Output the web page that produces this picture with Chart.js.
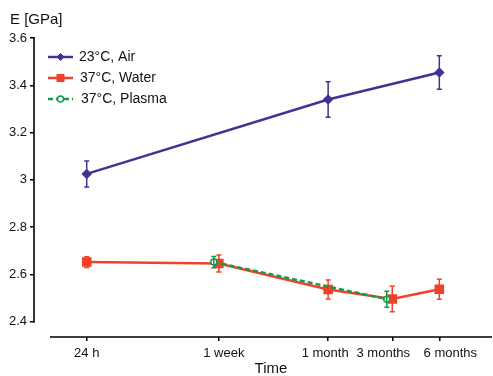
<!DOCTYPE html>
<html lang="en">
<head>
    <meta charset="UTF-8">
    <title>E modulus over time</title>
    <script src="https://cdnjs.cloudflare.com/ajax/libs/Chart.js/4.4.1/chart.umd.min.js"></script>
    <style>
        body { margin: 0; background: #fff; }
        #wrap { width: 493px; height: 376px; }
    </style>
</head>
<body>
    <div id="wrap"><canvas id="chart" width="493" height="376"></canvas></div>

    <script>
        // time points in days (log axis)
        const tickDays = [1, 7, 35, 90, 180];
        const tickLabels = ['24 h', '1 week', '1 month', '3 months', '6 months'];
        const yTicks = [2.4, 2.6, 2.8, 3, 3.2, 3.4, 3.6];

        const airDays = [1, 35, 180];
        const airE = [3.025, 3.34, 3.454];
        const airErr = [0.055, 0.075, 0.071];

        const waterDays = [1, 7, 35, 90, 180];
        const waterE = [2.652, 2.646, 2.536, 2.496, 2.537];
        const waterErr = [0.023, 0.036, 0.040, 0.054, 0.042];

        const plasmaDays = [6.5, 83];
        const plasmaE = [2.652, 2.495];
        const plasmaErr = [0.024, 0.034];

        const BLUE = '#3d3494';
        const RED = '#f0412a';
        const GREEN = '#17994a';
        const FONT = 'Arial, "Liberation Sans", sans-serif';
        // labels in the original are nudged sideways so they don't collide
        const labelNudge = [0, 5, -3, -9, 11];

        const pts = (xs, ys) => xs.map((x, i) => ({ x: x, y: ys[i] }));

        // vertical error bars with small caps
        const errorBars = {
            id: 'errorBars',
            afterDatasetDraw(chart, args) {
                const ds = chart.data.datasets[args.index];
                if (!ds.err) return;
                const ctx = chart.ctx;
                const ys = chart.scales.y;
                ctx.save();
                ctx.strokeStyle = ds.borderColor;
                ctx.lineWidth = 1.5;
                args.meta.data.forEach((p, i) => {
                    const v = ds.data[i].y;
                    const top = ys.getPixelForValue(v + ds.err[i]);
                    const bot = ys.getPixelForValue(v - ds.err[i]);
                    ctx.beginPath();
                    ctx.moveTo(p.x, top); ctx.lineTo(p.x, bot);
                    ctx.moveTo(p.x - 2.5, top); ctx.lineTo(p.x + 2.5, top);
                    ctx.moveTo(p.x - 2.5, bot); ctx.lineTo(p.x + 2.5, bot);
                    ctx.stroke();
                });
                ctx.restore();
            }
        };

        // detached axis lines, x labels, axis titles, legend inside the plot
        const decorations = {
            id: 'decorations',
            afterDraw(chart) {
                const ctx = chart.ctx;
                const a = chart.chartArea;
                const xs = chart.scales.x;
                const ys = chart.scales.y;
                const xStart = a.left + 16;
                ctx.save();
                ctx.strokeStyle = '#000';
                ctx.lineWidth = 1.6;
                ctx.beginPath();
                ctx.moveTo(a.left, ys.getPixelForValue(yTicks[yTicks.length - 1]) - 1);
                ctx.lineTo(a.left, ys.getPixelForValue(yTicks[0]) + 1);
                ctx.moveTo(xStart, a.bottom);
                ctx.lineTo(a.right, a.bottom);
                ctx.stroke();

                ctx.fillStyle = '#111';
                ctx.textBaseline = 'middle';
                ctx.textAlign = 'center';
                ctx.font = '13px ' + FONT;
                tickDays.forEach((d, i) => {
                    ctx.fillText(tickLabels[i], xs.getPixelForValue(d) + labelNudge[i], a.bottom + 16.5);
                });
                ctx.font = '15px ' + FONT;
                ctx.fillText('Time', (xStart + a.right) / 2, 369);

                ctx.textAlign = 'left';
                ctx.fillText('E [GPa]', 10, 20);

                // legend
                ctx.font = '14px ' + FONT;
                chart.data.datasets.forEach((ds, i) => {
                    const y = 57 + i * 21;
                    ctx.strokeStyle = ds.borderColor;
                    ctx.lineWidth = 2.5;
                    ctx.setLineDash(ds.borderDash || []);
                    ctx.beginPath();
                    ctx.moveTo(48, y); ctx.lineTo(73, y);
                    ctx.stroke();
                    ctx.setLineDash([]);
                    ctx.fillStyle = ds.pointBackgroundColor;
                    ctx.lineWidth = ds.pointBorderWidth || 1;
                    Chart.helpers.drawPoint(ctx, {
                        pointStyle: ds.pointStyle,
                        radius: ds.pointRadius,
                        borderWidth: ds.pointBorderWidth || 1
                    }, 60.5, y);
                    ctx.fillStyle = '#111';
                    ctx.fillText(ds.label, 79 + i, y);
                });
                ctx.restore();
            }
        };

        new Chart(document.getElementById('chart'), {
            type: 'line',
            data: {
                datasets: [
                    {
                        label: '23°C, Air', data: pts(airDays, airE), err: airErr,
                        borderColor: BLUE, backgroundColor: BLUE, pointBackgroundColor: BLUE,
                        borderWidth: 2.5, pointStyle: 'rectRot', pointRadius: 3.5, order: 3
                    },
                    {
                        label: '37°C, Water', data: pts(waterDays, waterE), err: waterErr,
                        borderColor: RED, backgroundColor: RED, pointBackgroundColor: RED,
                        borderWidth: 2.5, pointStyle: 'rect', pointRadius: 5, order: 2
                    },
                    {
                        label: '37°C, Plasma', data: pts(plasmaDays, plasmaE), err: plasmaErr,
                        borderColor: GREEN, backgroundColor: '#fff', pointBackgroundColor: '#fff',
                        borderWidth: 2.5, borderDash: [5, 3], pointStyle: 'circle', pointRadius: 3,
                        pointBorderWidth: 1.5, order: 1
                    }
                ]
            },
            options: {
                responsive: false,
                animation: false,
                layout: { autoPadding: false, padding: { top: 38, right: 1, left: 0, bottom: 0 } },
                plugins: { legend: { display: false }, tooltip: { enabled: false } },
                scales: {
                    x: {
                        type: 'logarithmic',
                        min: 0.46, max: 391,
                        afterBuildTicks: s => { s.ticks = tickDays.map(v => ({ value: v })); },
                        afterFit: s => { s.height = 39; s.paddingLeft = 0; s.paddingRight = 0; },
                        ticks: { display: false },
                        grid: { drawOnChartArea: false, drawTicks: true, tickLength: 4, color: '#000', lineWidth: 1.5 },
                        border: { display: false }
                    },
                    y: {
                        min: 2.335, max: 3.6,
                        afterBuildTicks: s => { s.ticks = yTicks.map(v => ({ value: v })); },
                        afterFit: s => { s.width = 34; },
                        ticks: {
                            padding: 3, color: '#111',
                            font: { family: FONT, size: 13 },
                            callback: v => String(v)
                        },
                        grid: { drawOnChartArea: false, drawTicks: true, tickLength: 4, color: '#000', lineWidth: 1.5 },
                        border: { display: false }
                    }
                }
            },
            plugins: [errorBars, decorations]
        });
    </script>
</body>
</html>
